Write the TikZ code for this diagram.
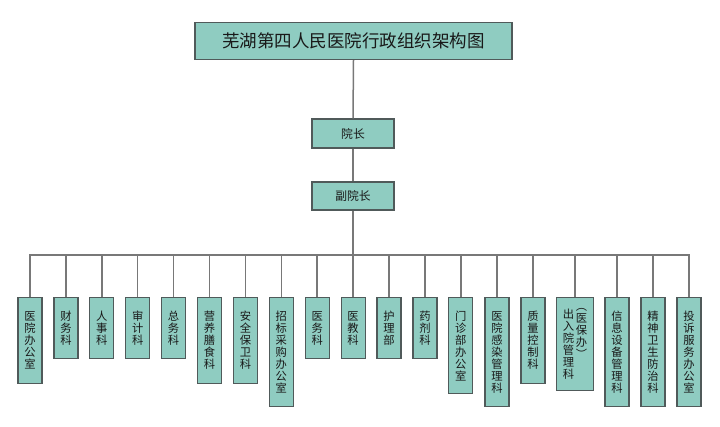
\documentclass[tikz,border=0pt]{standalone}
\usepackage{fontspec}
\setmainfont{Noto Sans CJK SC}
\definecolor{boxfill}{RGB}{143,204,193}
\definecolor{boxline}{RGB}{80,90,90}
\definecolor{connc}{RGB}{120,120,120}
\definecolor{txt}{RGB}{25,25,25}
\begin{document}
\begin{tikzpicture}[x=1pt,y=-1pt,
  box/.style={draw=boxline, fill=boxfill, line width=1.2pt, inner sep=0pt, text=txt},
  dept/.style={box, anchor=north, minimum width=24, minimum height=#1, align=center, font=\fontsize{11.3}{12}\selectfont},
  coltext/.style={anchor=north, inner sep=0pt, align=center, text=txt, font=\fontsize{11.3}{12}\selectfont},
  conn/.style={draw=connc, line width=1.5pt}]
\path[use as bounding box, fill=white] (0,0) rectangle (720,426);
\node[box, minimum width=317, minimum height=37, font=\fontsize{17.5}{20}\selectfont] (title) at (353.5,41) {芜湖第四人民医院行政组织架构图};
\node[box, minimum width=82, minimum height=29, font=\fontsize{11.8}{13}\selectfont] (yz) at (353,133.5) {院长};
\node[box, minimum width=82, minimum height=28, font=\fontsize{11.8}{13}\selectfont] (fyz) at (353,196) {副院长};
\coordinate (bar) at (353,255);
\node[dept=86]  (d1)  at (30,297)    {医\\院\\办\\公\\室};
\node[dept=61]  (d2)  at (65.9,297)  {财\\务\\科};
\node[dept=61]  (d3)  at (101.8,297) {人\\事\\科};
\node[dept=61]  (d4)  at (137.7,297) {审\\计\\科};
\node[dept=61]  (d5)  at (173.6,297) {总\\务\\科};
\node[dept=86]  (d6)  at (209.5,297) {营\\养\\膳\\食\\科};
\node[dept=86]  (d7)  at (245.4,297) {安\\全\\保\\卫\\科};
\node[dept=109] (d8)  at (281.3,297) {招\\标\\采\\购\\办\\公\\室};
\node[dept=61]  (d9)  at (317.2,297) {医\\务\\科};
\node[dept=61]  (d10) at (353.1,297) {医\\教\\科};
\node[dept=61]  (d11) at (389,297)   {护\\理\\部};
\node[dept=61]  (d12) at (424.9,297) {药\\剂\\科};
\node[dept=96]  (d13) at (460.8,297) {门\\诊\\部\\办\\公\\室};
\node[dept=109] (d14) at (497,297)   {医\\院\\感\\染\\管\\理\\科};
\node[dept=86]  (d15) at (533,297)   {质\\量\\控\\制\\科};
\node[dept=93, minimum width=37] (d16) at (575,297) {};
\node[coltext] (d16a) at (568.5,308.5) {出\\入\\院\\管\\理\\科};
\node[coltext] (d16b) at (581.5,308.5) {︵\\医\\保\\办\\︶};
\node[dept=109] (d17) at (617,297)   {信\\息\\设\\备\\管\\理\\科};
\node[dept=109] (d18) at (653,297)   {精\\神\\卫\\生\\防\\治\\科};
\node[dept=109] (d19) at (689,297)   {投\\诉\\服\\务\\办\\公\\室};
\draw[conn] (title.south) -- (yz.north);
\draw[conn] (yz.south) -- (fyz.north);
\draw[conn] (fyz.south) -- (bar);
\draw[conn] (d1.north) |- (bar) -| (d19.north);
\foreach \n in {2,...,18} \draw[conn] (d\n.north) -- (d\n.north |- bar);
\end{tikzpicture}
\end{document}
